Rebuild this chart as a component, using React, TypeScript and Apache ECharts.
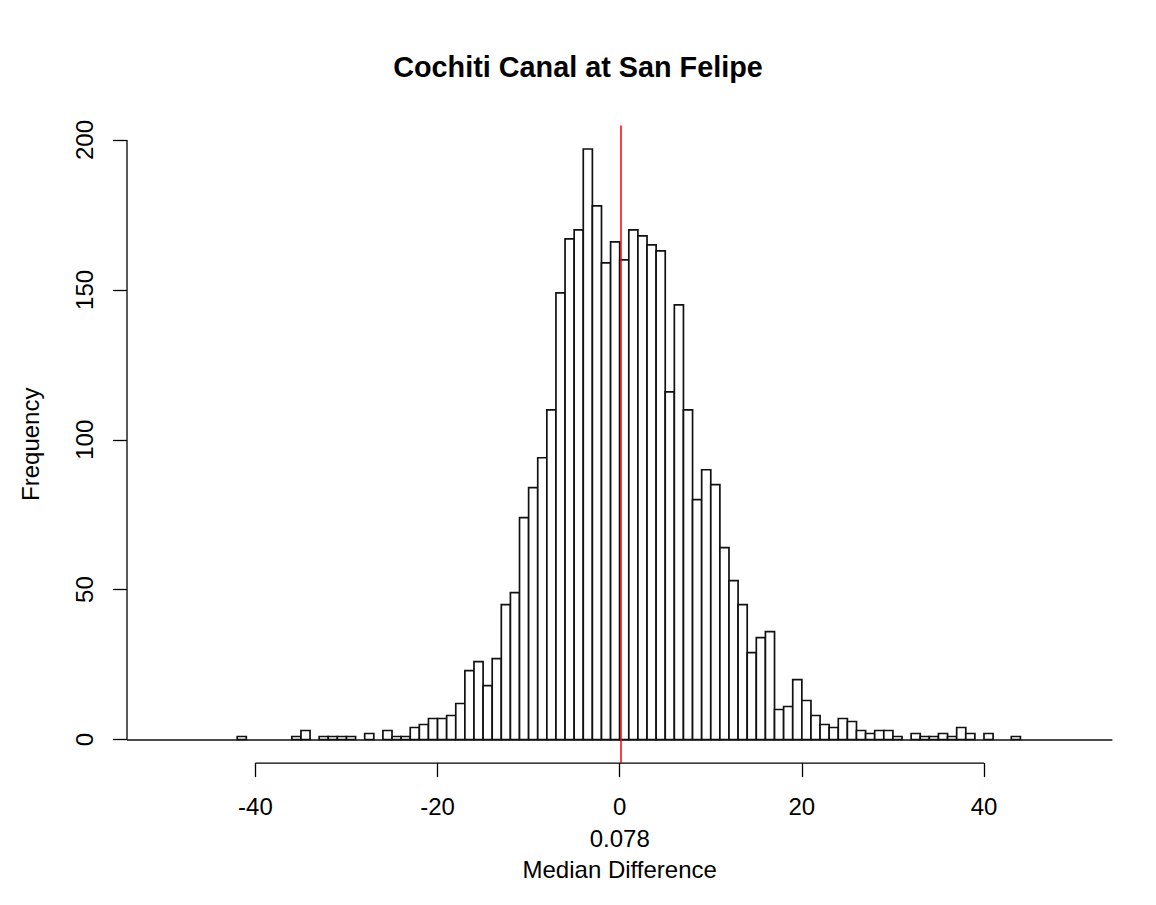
import React, { useEffect, useRef } from 'react';
import * as echarts from 'echarts';

const TITLE = 'Cochiti Canal at San Felipe';
const X_NAME = '0.078\nMedian Difference';
const Y_NAME = 'Frequency';
const MEDIAN_VALUE = 0.078;

// histogram bins: first bin starts at BIN_START, each BIN_WIDTH wide
const BIN_START = -42;
const BIN_WIDTH = 1;
const COUNTS = [
  1, 0, 0, 0, 0, 0, 1, 3, 0, 1, 1, 1, 1, 0, 2, 0, 3, 1, 1, 4,
  5, 7, 7, 8, 12, 23, 26, 18, 27, 45, 49, 74, 84, 94, 110, 149, 167, 170, 197, 178,
  159, 166, 160, 170, 168, 165, 163, 116, 145, 110, 80, 90, 85, 64, 53, 45, 29, 34, 36, 10,
  11, 20, 13, 8, 5, 4, 7, 6, 3, 2, 3, 3, 1, 0, 2, 1, 1, 2, 1, 4,
  2, 0, 2, 0, 0, 1,
];

const X_TICKS = [-40, -20, 0, 20, 40];
const Y_TICKS = [0, 50, 100, 150, 200];
const X_MIN = -54.1;
const X_MAX = 54.1;
const Y_MIN = -7.88;
const Y_MAX = 204.88;

const FONT = '"Liberation Sans", Arial, Helvetica, sans-serif';

export default function App() {
  const ref = useRef<HTMLDivElement>(null);

  useEffect(() => {
    if (!ref.current) return;
    const chart = echarts.init(ref.current, null, { renderer: 'svg' });

    const bins = COUNTS.map((c, i) => [
      BIN_START + i * BIN_WIDTH,
      BIN_START + (i + 1) * BIN_WIDTH,
      c,
    ]);

    const option: any = {
      animation: false,
      backgroundColor: '#ffffff',
      textStyle: { fontFamily: FONT },
      title: {
        text: TITLE,
        left: 'center',
        top: 47,
        textStyle: {
          fontFamily: FONT,
          fontSize: 28.8,
          fontWeight: 'bold',
          color: '#000',
        },
      },
      grid: {
        left: 127,
        right: 43.6,
        top: 125.4,
        bottom: 141.9,
        containLabel: false,
        outerBoundsMode: 'none',
      },
      xAxis: {
        type: 'value',
        min: X_MIN,
        max: X_MAX,
        name: X_NAME,
        nameLocation: 'middle',
        nameGap: 53,
        nameTextStyle: {
          fontFamily: FONT,
          fontSize: 24,
          color: '#000',
          lineHeight: 31,
        },
        axisLine: { show: false, onZero: false },
        splitLine: { show: false },
        axisTick: {
          show: true,
          customValues: X_TICKS,
          length: 14,
          lineStyle: { color: '#000', width: 1.3 },
        },
        axisLabel: {
          show: true,
          customValues: X_TICKS,
          margin: 31,
          fontFamily: FONT,
          fontSize: 24,
          color: '#000',
        },
      },
      yAxis: {
        type: 'value',
        min: Y_MIN,
        max: Y_MAX,
        name: Y_NAME,
        nameLocation: 'middle',
        nameGap: 85,
        nameTextStyle: {
          fontFamily: FONT,
          fontSize: 24,
          color: '#000',
        },
        axisLine: { show: false, onZero: false },
        splitLine: { show: false },
        axisTick: {
          show: true,
          customValues: Y_TICKS,
          length: 14,
          lineStyle: { color: '#000', width: 1.3 },
        },
        axisLabel: {
          show: true,
          customValues: Y_TICKS,
          rotate: 90,
          margin: 31,
          fontFamily: FONT,
          fontSize: 24,
          color: '#000',
        },
      },
      series: [
        {
          type: 'custom',
          name: 'histogram',
          data: bins,
          encode: { x: [0, 1], y: 2 },
          z: 2,
          renderItem: (params: any, api: any) => {
            const x0 = api.value(0);
            const x1 = api.value(1);
            const h = api.value(2);
            if (!h) return null;
            const p0 = api.coord([x0, 0]);
            const p1 = api.coord([x1, h]);
            return {
              type: 'rect',
              shape: {
                x: p0[0],
                y: p1[1],
                width: p1[0] - p0[0],
                height: p0[1] - p1[1],
              },
              style: { fill: '#ffffff', stroke: '#111', lineWidth: 1.7 },
            };
          },
        },
        {
          type: 'custom',
          name: 'axes',
          data: [[0]],
          z: 3,
          silent: true,
          renderItem: (params: any, api: any) => {
            const xa = api.coord([X_TICKS[0], Y_MIN]);
            const xb = api.coord([X_TICKS[X_TICKS.length - 1], Y_MIN]);
            const ya = api.coord([X_MIN, Y_TICKS[0]]);
            const yb = api.coord([X_MIN, Y_TICKS[Y_TICKS.length - 1]]);
            const style = { stroke: '#000', lineWidth: 1.3 };
            return {
              type: 'group',
              children: [
                { type: 'line', shape: { x1: xa[0], y1: xa[1], x2: xb[0], y2: xb[1] }, style },
                { type: 'line', shape: { x1: ya[0], y1: ya[1], x2: yb[0], y2: yb[1] }, style },
              ],
            };
          },
          markLine: {
            silent: true,
            symbol: ['none', 'none'],
            label: { show: false },
            data: [
              { yAxis: 0, lineStyle: { color: '#111', width: 1.6, type: 'solid' } },
              { xAxis: MEDIAN_VALUE, lineStyle: { color: '#ff0000', width: 1.5, type: 'solid' } },
            ],
          },
        },
      ],
    };

    chart.setOption(option);
    return () => chart.dispose();
  }, []);

  return (
    <div
      ref={ref}
      style={{ position: 'absolute', left: 0, top: 0, width: 1156, height: 905, background: '#fff' }}
    />
  );
}
